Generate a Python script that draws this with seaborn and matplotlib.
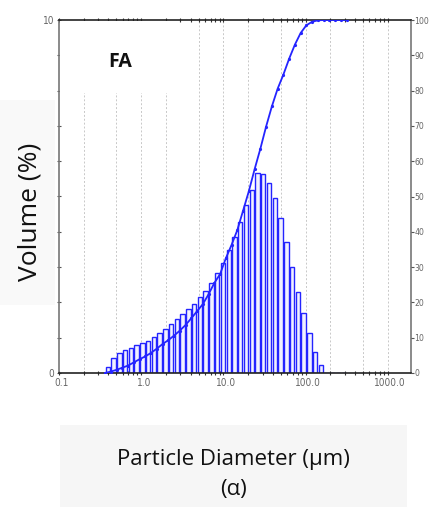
import numpy as np
import pandas as pd
import matplotlib
matplotlib.use("Agg")
import matplotlib.pyplot as plt
import matplotlib.transforms as mtrans
import seaborn as sns
from matplotlib.patches import Rectangle
from matplotlib.ticker import LogLocator, NullFormatter, FixedLocator

# ---------------- data ----------------
bin_edges_um = [0.363, 0.427, 0.501, 0.589, 0.692, 0.813, 0.955, 1.122, 1.318,
                1.549, 1.820, 2.138, 2.512, 2.951, 3.467, 4.074, 4.786, 5.623,
                6.607, 7.762, 9.120, 10.72, 12.59, 14.79, 17.38, 20.42, 23.99,
                28.18, 33.11, 38.90, 45.71, 53.70, 63.10, 74.13, 87.10, 102.3,
                120.2, 141.3, 166.0, 195.0, 229.1, 269.2, 316.2]
volume_pct = [0.17, 0.42, 0.56, 0.65, 0.72, 0.78, 0.84, 0.92, 1.02, 1.13,
              1.25, 1.39, 1.53, 1.67, 1.80, 1.95, 2.15, 2.33, 2.54, 2.82,
              3.11, 3.48, 3.86, 4.29, 4.76, 5.18, 5.66, 5.64, 5.39, 4.95,
              4.38, 3.72, 3.01, 2.30, 1.69, 1.12, 0.60, 0.23,
              0.0, 0.0, 0.0, 0.0]
cum_size_um = [0.363, 0.427, 0.501, 0.589, 0.692, 0.813, 0.955, 1.122, 1.318,
               1.549, 1.820, 2.138, 2.512, 2.951, 3.467, 4.074, 4.786, 5.623,
               6.607, 7.762, 9.120, 10.72, 12.59, 14.79, 17.38, 20.42, 23.99,
               28.18, 33.11, 38.90, 45.71, 53.70, 63.10, 74.13, 87.10, 102.3,
               120.2, 141.3, 166.0, 195.0, 229.1, 269.2, 316.2]
cum_pct = [0.0, 0.4, 0.9, 1.5, 2.1, 3.0, 3.9, 4.7, 5.7, 6.9, 8.2, 9.3, 10.6,
           12.0, 13.6, 15.5, 17.5, 19.5, 22.3, 25.5, 28.0, 32.5, 36.3, 40.5,
           46.0, 51.5, 57.7, 63.5, 69.8, 75.5, 80.5, 84.5, 89.0, 93.0, 96.3,
           98.5, 99.5, 99.9, 100.0, 100.0, 100.0, 100.0, 100.0]
x_tick_vals = [0.1, 1, 10, 100, 1000]
x_tick_labels = ["0.1", "1.0", "10.0", "100.0", "1000.0"]
grid_vals = [0.2, 0.5, 1, 2, 5, 10, 20, 50, 100, 200, 500, 1000]
left_ticks = list(range(0, 11))
left_labels = ["0"] + [""] * 9 + ["10"]
right_ticks = list(range(0, 101, 10))
right_labels = [str(v) for v in right_ticks]

# ---------------- style ----------------
sns.set_style("white")
plt.rcParams['font.family'] = ['Open Sans', 'DejaVu Sans']
TICKFONT = ["DejaVu Sans"]

BLUE = "#2424ff"
W, H = 429, 507
fig = plt.figure(figsize=(W / 100, H / 100), dpi=100)
fig.patch.set_facecolor("white")

# background boxes
fig.add_artist(Rectangle((60 / W, 0), (407 - 60) / W, (507 - 425) / H,
                         transform=fig.transFigure, facecolor="#f6f6f6",
                         edgecolor="none", zorder=0))
fig.add_artist(Rectangle((0, 1 - 305 / H), 55 / W, (305 - 100) / H,
                         transform=fig.transFigure, facecolor="#f9f9f9",
                         edgecolor="none", zorder=0))

ax = fig.add_axes([59 / W, 1 - 373 / H, 352 / W, 353 / H])
ax.set_xscale("log")

edges = np.array(bin_edges_um)
centers = np.sqrt(edges[:-1] * edges[1:])
log_bins = [float(v) for v in np.log10(edges)]
df = pd.DataFrame({"d": centers, "v": volume_pct})
sns.histplot(data=df, x="d", weights="v", bins=log_bins, ax=ax,
             log_scale=True, stat="count", element="bars", fill=True,
             shrink=0.78, facecolor="#f1f1ff", edgecolor=BLUE, linewidth=1.0,
             alpha=1, zorder=2)

ax.set_xlim(0.1, 1920)
ax.set_ylim(0, 10)

# vertical dotted grid
for g in grid_vals:
    ax.axvline(g, color="#c8c8c8", lw=0.7, ls=(0, (2, 2)), zorder=0.5)

# white box behind label FA (hides grid)
ax.add_patch(Rectangle((0.003, 0.793), 0.335, 0.204, transform=ax.transAxes,
                       facecolor="white", edgecolor="none", zorder=1))
fig.text(120 / W, 1 - 62 / H, "FA", fontsize=14, fontweight="bold",
         ha="center", va="center", color="#111111")

# x ticks
ax.xaxis.set_major_locator(FixedLocator(x_tick_vals))
ax.set_xticklabels(x_tick_labels)
ax.xaxis.set_minor_locator(LogLocator(base=10, subs=np.arange(2, 10)))
ax.xaxis.set_minor_formatter(NullFormatter())
ax.tick_params(axis="x", which="both", direction="inout", top=True,
               bottom=True, length=3, width=0.8, color="#333333",
               labelsize=7.2, labelcolor="#666666", pad=2)
offset = mtrans.ScaledTranslation(2.5 / 100, 0, fig.dpi_scale_trans)
for lbl in ax.get_xticklabels():
    lbl.set_family(TICKFONT)
    lbl.set_fontstretch("condensed")
    lbl.set_transform(lbl.get_transform() + offset)

ax.set_yticks(left_ticks)
ax.set_yticklabels(left_labels)
ax.tick_params(axis="y", which="both", direction="inout", length=3, width=0.8,
               color="#555555", labelsize=7.2, labelcolor="#666666", pad=2)
for lbl in ax.get_yticklabels():
    lbl.set_family(TICKFONT)
    lbl.set_fontstretch("condensed")

ax.set_xlabel("")
ax.set_ylabel("")

for s in ["top", "bottom"]:
    ax.spines[s].set_color("#222222")
    ax.spines[s].set_linewidth(1.2)
for s in ["left", "right"]:
    ax.spines[s].set_color("#777777")
    ax.spines[s].set_linewidth(1.2)

# cumulative curve on right axis
ax2 = ax.twinx()
sns.lineplot(x=cum_size_um, y=cum_pct, ax=ax2, color=BLUE, linewidth=1.3,
             marker="o", markersize=2.3, markeredgewidth=0, zorder=3)
ax2.set_ylim(0, 100)
ax2.set_xlim(0.1, 1920)
ax2.set_yticks(right_ticks)
ax2.set_yticklabels(right_labels)
ax2.tick_params(axis="y", direction="out", length=2, width=0.8,
                color="#555555", labelsize=6.2, labelcolor="#666666", pad=0.3)
for lbl in ax2.get_yticklabels():
    lbl.set_family(TICKFONT)
    lbl.set_fontstretch("condensed")
ax2.set_ylabel("")
for s in ax2.spines.values():
    s.set_visible(False)

# axis titles
fig.text(30 / W, 1 - 212 / H, "Volume (%)", rotation=90, fontsize=19,
         ha="center", va="center", color="#111111")
fig.text(233 / W, 1 - 459 / H, "Particle Diameter (\u00b5m)", fontsize=16,
         ha="center", va="center", color="#111111")
fig.text(233 / W, 1 - 489 / H, "(\u03b1)", fontsize=16,
         ha="center", va="center", color="#111111")

fig.savefig("out.png", dpi=100)
